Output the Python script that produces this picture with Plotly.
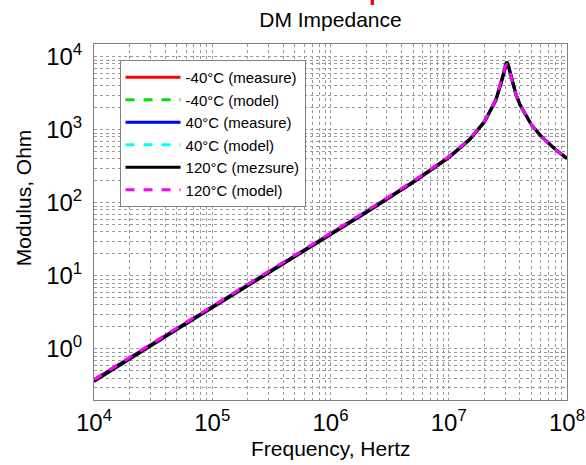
import plotly.graph_objects as go

title_text = "DM Impedance"
x_title = "Frequency, Hertz"
y_title = "Modulus, Ohm"

x_tick_vals = [1e4, 1e5, 1e6, 1e7, 1e8]
x_tick_text = ["10<sup>4</sup>", "10<sup>5</sup>", "10<sup>6</sup>", "10<sup>7</sup>", "10<sup>8</sup>"]
y_tick_vals = [1e0, 1e1, 1e2, 1e3, 1e4]
y_tick_text = ["10<sup>0</sup>", "10<sup>1</sup>", "10<sup>2</sup>", "10<sup>3</sup>", "10<sup>4</sup>"]

freq = [1e4, 2e4, 5e4, 1e5, 2e5, 5e5, 1e6, 2e6, 5e6, 1e7, 1.5e7, 2e7, 2.5e7, 2.8e7,
        3.0e7, 3.1e7, 3.2e7, 3.4e7, 3.7e7, 4e7, 5e7, 6e7, 7e7, 8e7, 1e8]

m40_measure = [0.38, 0.76, 1.9, 3.8, 7.6, 19, 38, 76, 196, 425, 745, 1300, 2570, 4690,
               7300, 7900, 7300, 4950, 3050, 2200, 1170, 825, 648, 536, 410]
m40_model = [0.38, 0.76, 1.9, 3.8, 7.6, 19, 38, 76, 197, 428, 750, 1320, 2650, 4900,
             7900, 7600, 6600, 4600, 2950, 2150, 1160, 820, 645, 534, 405]
p40_measure = [0.37, 0.75, 1.88, 3.75, 7.5, 18.8, 37.5, 75, 194, 422, 740, 1290, 2550, 4650,
               7250, 8100, 7400, 5000, 3080, 2210, 1175, 828, 650, 537, 404]
p40_model = [0.375, 0.755, 1.89, 3.78, 7.55, 18.9, 37.8, 75.5, 195, 424, 742, 1295, 2580, 4700,
             7400, 7950, 7300, 4970, 3060, 2200, 1172, 826, 648, 536, 405]
p120_measure = [0.36, 0.73, 1.83, 3.66, 7.3, 18.3, 36.6, 73.5, 190, 415, 730, 1275, 2520, 4600,
                7200, 8600, 7600, 5050, 3100, 2220, 1180, 830, 650, 537, 404]
p120_model = [0.38, 0.77, 1.92, 3.85, 7.7, 19.2, 38.5, 77, 198, 428, 748, 1305, 2590, 4720,
              7350, 7800, 7250, 4980, 3070, 2205, 1175, 826, 648, 536, 404]

series = [
    ("-40°C (measure)", m40_measure, "#ff0000", "solid"),
    ("-40°C (model)", m40_model, "#00e000", "dash"),
    ("40°C (measure)", p40_measure, "#0000ff", "solid"),
    ("40°C (model)", p40_model, "#00ffff", "dash"),
    ("120°C (mezsure)", p120_measure, "#000000", "solid"),
    ("120°C (model)", p120_model, "#ff00ff", "dash"),
]

fig = go.Figure()
for name, vals, color, dash in series:
    fig.add_trace(go.Scatter(x=freq, y=vals, mode="lines", name=name,
                             line=dict(color=color, width=3, dash=dash)))

font_family = "Liberation Sans, Arial, sans-serif"
minor_grid = dict(showgrid=True, gridcolor="#9a9a9a", gridwidth=1, griddash="dot")

fig.update_layout(
    width=586, height=465,
    margin=dict(l=94, r=19, t=44, b=65, autoexpand=False),
    paper_bgcolor="white", plot_bgcolor="white",
    font=dict(family=font_family, color="black"),
    title=dict(text=title_text, x=0.5, xref="paper", y=0.957, yref="container",
               xanchor="center", yanchor="middle", font=dict(size=21, color="black")),
    showlegend=True,
    legend=dict(x=0.054, y=0.955, xanchor="left", yanchor="top",
                bgcolor="white", bordercolor="#808080", borderwidth=1,
                font=dict(size=15, color="black"), tracegroupgap=0,
                itemwidth=55),
    shapes=[dict(type="rect", xref="paper", yref="paper",
                 x0=0.585, x1=0.592, y0=1.1096, y1=1.125,
                 fillcolor="#ff0000", line=dict(width=0))],
    annotations=[
        dict(text=y_title, textangle=-90, xref="paper", yref="paper",
             x=-0.150, y=0.567, xanchor="center", yanchor="middle", showarrow=False,
             font=dict(size=21, color="black")),
        dict(text=x_title, xref="paper", yref="paper",
             x=0.5, y=-0.135, xanchor="center", yanchor="middle", showarrow=False,
             font=dict(size=21, color="black")),
    ],
)

fig.update_xaxes(type="log", range=[4, 8], tickvals=x_tick_vals, ticktext=x_tick_text,
                 tickfont=dict(size=24, color="black"), ticks="", ticklabelstandoff=1,
                 showline=True, mirror=True, linecolor="#808080", linewidth=1,
                 showgrid=True, gridcolor="#9a9a9a", gridwidth=1, griddash="dot",
                 minor=dict(dtick="D1", **minor_grid), automargin=False,
                 zeroline=False)
fig.update_yaxes(type="log", range=[-0.699, 4.176], tickvals=y_tick_vals, ticktext=y_tick_text,
                 tickfont=dict(size=24, color="black"), ticks="", ticklabelstandoff=6,
                 showline=True, mirror=True, linecolor="#808080", linewidth=1,
                 showgrid=True, gridcolor="#9a9a9a", gridwidth=1, griddash="dot",
                 minor=dict(dtick="D1", **minor_grid), automargin=False,
                 zeroline=False)

fig.write_html("out.html", config={"displayModeBar": False},
               post_script="document.body.style.margin='0';")
